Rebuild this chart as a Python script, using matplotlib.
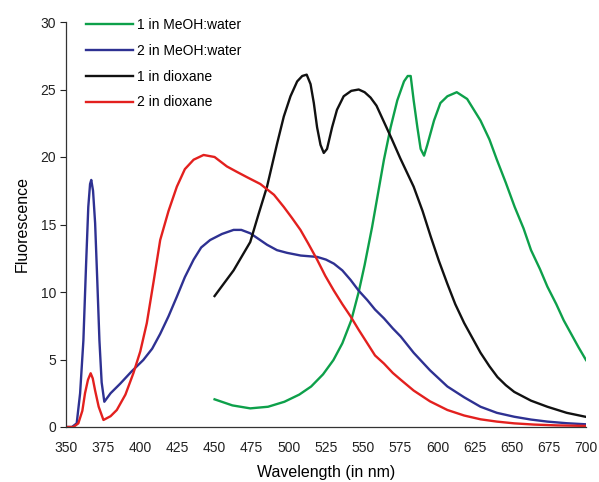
import matplotlib
matplotlib.use("Agg")
import matplotlib.pyplot as plt

plt.rcParams['font.family'] = ['Liberation Sans', 'DejaVu Sans']

# 1 in MeOH:water
green_x = [450, 462, 474, 486, 497, 507, 515, 523, 530, 536, 542, 547, 551, 556, 560, 564, 568.5, 573, 577.5, 580,
           582, 584, 586.5, 588.7, 591, 593.2, 597.7, 602, 606.7, 613, 620, 629, 635, 640, 646, 652, 658, 663, 669,
           674, 680, 685, 690, 695, 700]
green_y = [2.05, 1.6, 1.38, 1.5, 1.87, 2.4, 3.0, 3.9, 4.96, 6.2, 7.9, 10.0, 12.0, 14.8, 17.3, 19.8, 22.2, 24.2, 25.6,
           26.0, 26.0, 24.2, 22.2, 20.6, 20.1, 20.9, 22.7, 24.0, 24.5, 24.8, 24.3, 22.7, 21.3, 19.8, 18.1, 16.3, 14.7,
           13.1, 11.7, 10.4, 9.1, 7.9, 6.9, 5.9, 4.96]

# 2 in MeOH:water
blue_x = [350, 354, 357.2, 359.5, 361.7, 363.5, 365, 366.2, 367, 368.2, 369.6, 371, 372.5, 374, 375.8, 380, 386.4, 394,
          402, 408, 413.4, 419, 424.6, 430, 435.9, 441, 447, 455, 462.8, 468, 474, 480, 485.3, 492, 498.8, 508, 519,
          525, 530.3, 536, 541.5, 547, 552.8, 558, 564, 570, 575.3, 584, 595, 606.7, 618, 629, 640, 651.7, 663, 674,
          687, 700]
blue_y = [0, 0, 0.27, 2.5, 6.4, 12.0, 16.3, 18.0, 18.3, 17.5, 15.1, 11.0, 6.4, 3.3, 1.87, 2.5, 3.2, 4.1, 4.96, 5.8,
          6.9, 8.2, 9.65, 11.1, 12.4, 13.3, 13.85, 14.3, 14.6, 14.6, 14.35, 13.9, 13.5, 13.1, 12.9, 12.7, 12.6, 12.4,
          12.1, 11.6, 10.9, 10.1, 9.4, 8.7, 8.05, 7.3, 6.7, 5.5, 4.2, 3.0, 2.2, 1.5, 1.05, 0.76, 0.55, 0.4, 0.28, 0.2]

# 1 in dioxane
black_x = [450, 462.8, 474, 479.7, 485.3, 492.1, 496.6, 501.1, 505.6, 509, 512, 514.6, 516.8, 519, 521.3, 523.5,
           525.7, 529.1, 532.4, 536.9, 542, 547, 551, 555, 559, 564, 569, 575, 584, 590, 595.5, 601, 606.7, 612,
           618, 624, 629, 635, 640.4, 646, 651.7, 663, 674, 687, 700]
black_y = [9.7, 11.6, 13.7, 15.8, 17.8, 21.0, 23.0, 24.5, 25.6, 26.0, 26.1, 25.4, 24.0, 22.2, 20.9, 20.3, 20.6, 22.2,
           23.5, 24.5, 24.9, 25.0, 24.8, 24.4, 23.8, 22.6, 21.4, 19.9, 17.8, 16.0, 14.1, 12.3, 10.6, 9.1, 7.7, 6.5,
           5.5, 4.5, 3.7, 3.1, 2.6, 1.95, 1.5, 1.05, 0.75]

# 2 in dioxane
red_x = [350, 355, 358.3, 361, 362.8, 364.8, 366.6, 368, 369.6, 372, 375.2, 380, 384.2, 390, 395.4, 400, 404.4, 409,
         413.4, 419, 424.6, 430, 435.9, 442.6, 450, 458.3, 465, 471.9, 480.8, 490, 496.6, 502, 507.8, 513, 519, 524.5,
         530.3, 536, 541.5, 547, 552.8, 558, 564, 570, 575.3, 584, 595, 606.7, 618, 629, 640, 651.7, 665, 680, 700]
red_y = [0, 0, 0.27, 1.2, 2.5, 3.5, 3.98, 3.6, 2.7, 1.5, 0.52, 0.8, 1.26, 2.4, 4.0, 5.6, 7.7, 10.8, 13.85, 16.0, 17.8,
         19.1, 19.8, 20.15, 20.0, 19.3, 18.9, 18.5, 18.0, 17.2, 16.3, 15.5, 14.6, 13.6, 12.4, 11.2, 10.1, 9.1, 8.2, 7.2,
         6.2, 5.3, 4.7, 4.0, 3.5, 2.7, 1.9, 1.26, 0.85, 0.57, 0.4, 0.27, 0.18, 0.12, 0.08]

labels = ["1 in MeOH:water", "2 in MeOH:water", "1 in dioxane", "2 in dioxane"]
x_ticks = list(range(350, 701, 25))
y_ticks = list(range(0, 31, 5))

fig = plt.figure(figsize=(5.99, 4.82), dpi=100)
ax = fig.add_axes([66 / 599, 1 - 427 / 482, (586 - 66) / 599, (427 - 22) / 482])

lw = 1.7
ax.plot(green_x, green_y, color='#0DA04A', lw=lw, label=labels[0], solid_joinstyle='round')
ax.plot(blue_x, blue_y, color='#2E3192', lw=lw, label=labels[1], solid_joinstyle='round')
ax.plot(black_x, black_y, color='#111111', lw=lw, label=labels[2], solid_joinstyle='round')
ax.plot(red_x, red_y, color='#E3201E', lw=lw, label=labels[3], solid_joinstyle='round')

ax.set_xlim(350, 700)
ax.set_ylim(0, 30)
ax.set_xticks(x_ticks)
ax.set_yticks(y_ticks)
ax.tick_params(axis='x', length=0, pad=10, labelsize=10, colors='#222222')
ax.tick_params(axis='y', length=4, direction='out', pad=3, labelsize=10, colors='#222222')
for s in ['top', 'right']:
    ax.spines[s].set_visible(False)
for s in ['left', 'bottom']:
    ax.spines[s].set_color('#333333')
    ax.spines[s].set_linewidth(0.9)

ax.set_xlabel("Wavelength (in nm)", fontsize=11.5, labelpad=7)
ax.set_ylabel("Fluorescence", fontsize=11.5, labelpad=8)

leg = ax.legend(loc='upper left', bbox_to_anchor=(86 / 599, 1 - 18 / 482), bbox_transform=fig.transFigure,
                frameon=False, fontsize=10, handlelength=3.4, handletextpad=0.3, labelspacing=0.85,
                borderpad=0, borderaxespad=0)

fig.savefig("out.png", dpi=100)
